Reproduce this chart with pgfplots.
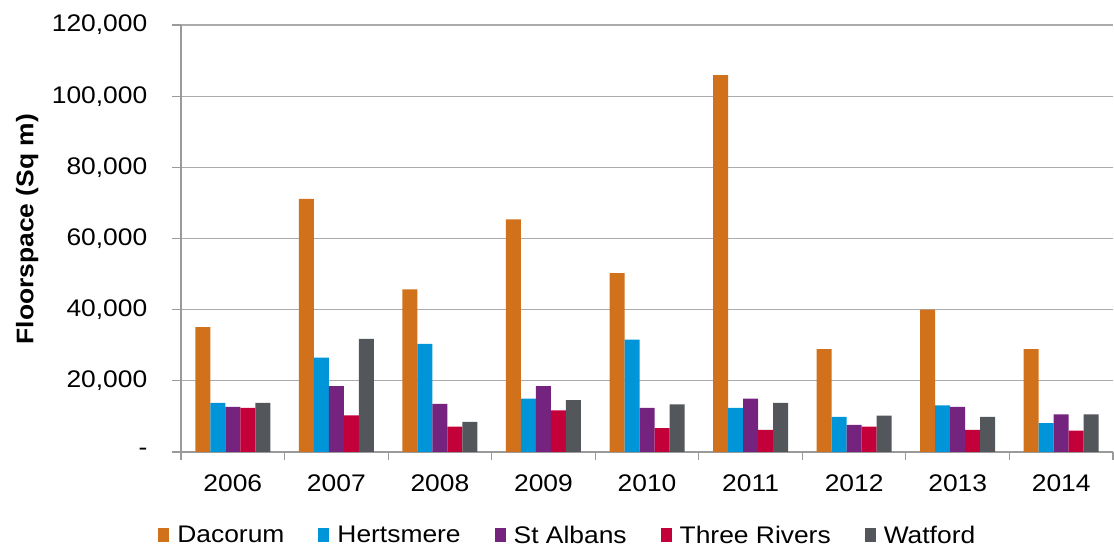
\documentclass[border=0pt]{standalone}
\usepackage{pgfplots}
\pgfplotsset{compat=1.18}
\usepackage{fontspec}
\setmainfont{Liberation Sans}[FakeStretch=1.1]
\definecolor{dac}{HTML}{D2711C}
\definecolor{her}{HTML}{0095D9}
\definecolor{sta}{HTML}{74247E}
\definecolor{thr}{HTML}{C3003A}
\definecolor{wat}{HTML}{53565A}
\definecolor{gridgray}{HTML}{ABABAB}
\definecolor{axgray}{HTML}{9A9A9A}
\newcommand{\chfont}{\fontsize{24pt}{28pt}\selectfont}
\begin{document}
\begin{tikzpicture}
\begin{axis}[
  scale only axis, width=932pt, height=427pt,
  ymin=0, ymax=120000, xmin=-0.5, xmax=8.5,
  ybar=0pt, bar width=15pt,
  scaled y ticks=false,
  /pgf/number format/assume math mode=true,
  ytick={0,20000,40000,60000,80000,100000,120000},
  yticklabels={-,{20,000},{40,000},{60,000},{80,000},{100,000},{120,000}},
  xtick={-0.5,0.5,1.5,2.5,3.5,4.5,5.5,6.5,7.5,8.5},
  xticklabels={2006,2007,2008,2009,2010,2011,2012,2013,2014,{}},
  xticklabel style={xshift=51.8pt, anchor=north, inner sep=0pt, yshift=-14pt},
  yticklabel style={anchor=east, inner sep=0pt, xshift=-25pt},
  ticklabel style={font=\chfont, text=black},
  tick align=outside, major tick length=8.5pt,
  tick style={draw=axgray, line width=1.2pt},
  ymajorgrids, grid style={draw=gridgray, line width=1.2pt},
  axis x line*=bottom, axis y line*=left,
  axis line style={draw=axgray, line width=1.2pt},
  ylabel={\bfseries Floorspace (Sq m)},
  y label style={at={(axis description cs:-0.165,0.522)}, anchor=center, font=\chfont},
  legend columns=5,
  legend style={draw=none, fill=none, at={(axis description cs:-0.0245,-0.168)}, anchor=north west,
    font=\chfont, inner sep=0pt,
    /tikz/every odd column/.append style={column sep=6pt},
    /tikz/every even column/.append style={column sep=32pt}},
  legend image code/.code={\fill[#1] (0pt,-6.5pt) rectangle (11pt,7.5pt);},
  clip=false,
]
\addplot[fill=dac, draw=none] coordinates {(0,35100) (1,71100) (2,45700) (3,65400) (4,50300) (5,105900) (6,28900) (7,40000) (8,28900)};
\addplot[fill=her, draw=none] coordinates {(0,13800) (1,26500) (2,30400) (3,15000) (4,31600) (5,12400) (6,9900) (7,13100) (8,8100)};
\addplot[fill=sta, draw=none] coordinates {(0,12700) (1,18500) (2,13500) (3,18500) (4,12400) (5,15000) (6,7600) (7,12700) (8,10600)};
\addplot[fill=thr, draw=none] coordinates {(0,12400) (1,10300) (2,7100) (3,11700) (4,6700) (5,6200) (6,7100) (7,6200) (8,6000)};
\addplot[fill=wat, draw=none] coordinates {(0,13800) (1,31800) (2,8500) (3,14600) (4,13400) (5,13800) (6,10200) (7,9900) (8,10600)};
\legend{Dacorum,Hertsmere,St Albans,Three Rivers,Watford}
\coordinate (bl) at (rel axis cs:0,0);
\coordinate (tr) at (rel axis cs:1,1);
\end{axis}
\pgfresetboundingbox
\path (bl) ++(-181pt,-96pt) (tr) ++(1pt,25pt);
\end{tikzpicture}
\end{document}
